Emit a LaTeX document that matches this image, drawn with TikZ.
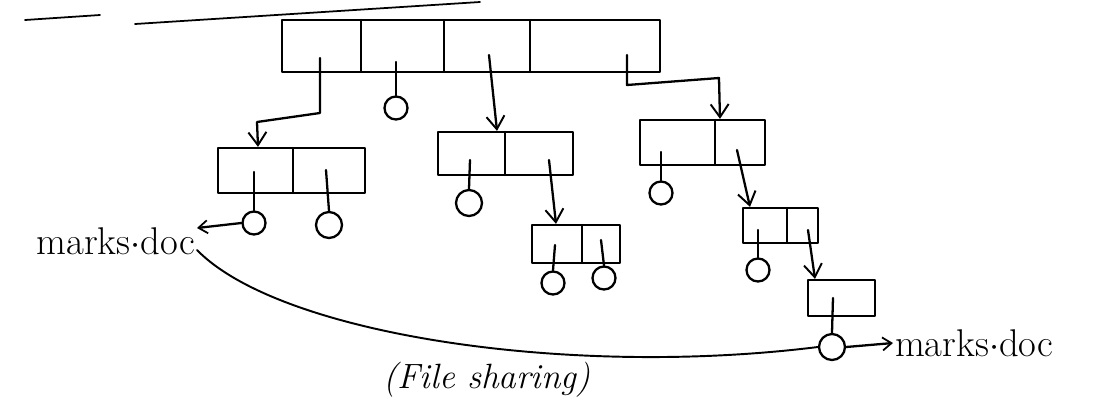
\documentclass[tikz,border=0pt]{standalone}
\usetikzlibrary{arrows.meta}
\begin{document}
\begin{tikzpicture}[x=0.02cm, y=-0.02cm,
  ink/.style={line width=1.3pt, line cap=round, line join=round},
  cellbox/.style={draw, ink, rectangle, inner sep=0pt},
  leaf/.style={draw, ink, circle, minimum size=0.46cm, inner sep=0pt},
  ptr/.style={ink},
  link/.style={ink, -{Straight Barb[length=2.6mm, width=3.6mm, line width=1.1pt]}},
  small/.style={ink, -{Straight Barb[length=1.8mm, width=2.6mm, line width=1pt]}},
  lbl/.style={font=\fontsize{22}{26}\selectfont, inner sep=1pt}
]
\useasboundingbox (0,0) rectangle (1103,413);

% heading underline (title cut off at the top)
\draw[ink, line width=1pt] (25,20) -- (100,15);
\draw[ink, line width=1pt] (135,24) -- (480,2);

% root directory
\node[cellbox, minimum width=7.56cm, minimum height=1.04cm] (root) at (471,46) {};
\foreach \x in {361,444,530} \draw[ink] (\x,20) -- (\x,72);

% subdirectories
\node[cellbox, minimum width=2.94cm, minimum height=0.9cm] (A) at (291.5,170.5) {};
\draw[ink] (293,148) -- (293,193);
\node[cellbox, minimum width=2.7cm, minimum height=0.86cm] (B) at (505.5,153.5) {};
\draw[ink] (505,132) -- (505,175);
\node[cellbox, minimum width=2.5cm, minimum height=0.9cm] (C) at (702.5,142.5) {};
\draw[ink] (715,120) -- (715,165);
\node[cellbox, minimum width=1.76cm, minimum height=0.76cm] (D) at (576,244) {};
\draw[ink] (582,225) -- (582,263);
\node[cellbox, minimum width=1.5cm, minimum height=0.7cm] (E) at (780.5,225.5) {};
\draw[ink] (787,208) -- (787,243);
\node[cellbox, minimum width=1.34cm, minimum height=0.72cm] (F) at (841.5,298) {};

% files (circles)
\node[leaf] (r2) at (396,108) {};
\node[leaf] (a1) at (254,223) {};
\node[leaf, minimum size=0.52cm] (a2) at (329,225) {};
\node[leaf, minimum size=0.52cm] (b1) at (469,203) {};
\node[leaf] (c1) at (661,193) {};
\node[leaf] (d1) at (553,283) {};
\node[leaf] (d2) at (604,278) {};
\node[leaf] (e1) at (758,270) {};
\node[leaf, minimum size=0.52cm] (f1) at (832,347) {};

% pointer start points
\coordinate (pr1) at (320,58);
\coordinate (pr2) at (396,62);
\coordinate (pr3) at (489,55);
\coordinate (pr4) at (627,55);
\coordinate (pa1) at (254,172);
\coordinate (pa2) at (326,170);
\coordinate (pb1) at (470,160);
\coordinate (pb2) at (549,160);
\coordinate (pc1) at (661,152);
\coordinate (pc2) at (737,150);
\coordinate (pd1) at (555,245);
\coordinate (pd2) at (601,240);
\coordinate (pe1) at (758,230);
\coordinate (pe2) at (808,230);
\coordinate (pf1) at (833,298);

% pointers to files
\draw[ptr] (pr2) -- (r2.north);
\draw[ptr] (pa1) -- (a1.north);
\draw[ptr] (pa2) -- (a2.north);
\draw[ptr] (pb1) -- (b1.north);
\draw[ptr] (pc1) -- (c1.north);
\draw[ptr] (pd1) -- (d1.north);
\draw[ptr] (pd2) -- (d2.north);
\draw[ptr] (pe1) -- (e1.north);
\draw[ptr] (pf1) -- (f1.north);

% pointers to subdirectories
\draw[link] (pr1) -- (320,113) -- (257,122) -- (A.north -| 258,0);
\draw[link] (pr3) -- (B.north -| 497,0);
\draw[link] (pr4) -- (627,85) -- (719,78) -- (C.north -| 720,0);
\draw[link] (pb2) -- (D.north -| 556,0);
\draw[link] (pc2) -- (E.north -| 750,0);
\draw[link] (pe2) -- (F.north -| 815,0);

% labels
\node[lbl, anchor=east] (ml) at (197,241) {marks$\cdot$doc};
\node[lbl, anchor=west] (mr) at (893,343) {marks$\cdot$doc};
\node[lbl, font=\fontsize{20}{24}\selectfont\itshape] (fs) at (487,380) {(File sharing)};

\draw[small] (a1.west) -- (ml.east |- 0,228);
\draw[small] (f1.east) -- (mr.west);

% shared link curve
\draw[ink, line width=1.1pt] (ml.east |- 0,250) .. controls (280,335) and (570,378) .. (f1.west);
\end{tikzpicture}
\end{document}
